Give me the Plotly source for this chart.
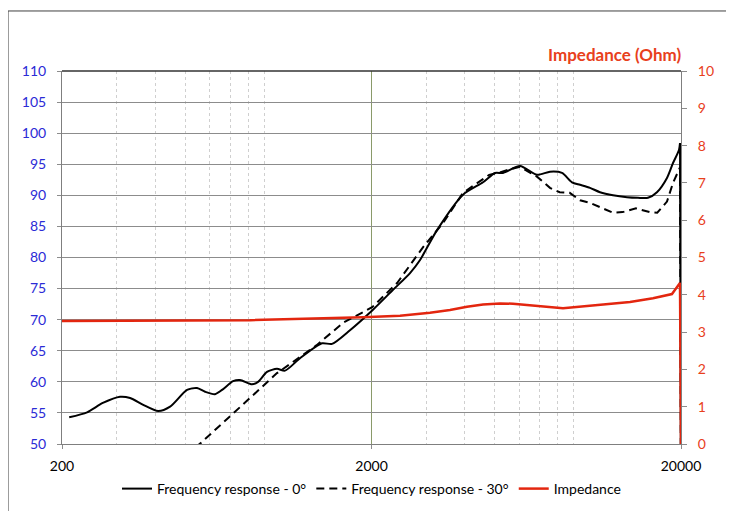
import plotly.graph_objects as go

# ---- Data ----
freq_0 = [211, 241, 271, 308, 332, 366, 409, 447, 507, 546, 580, 624, 658, 714, 752, 822, 860,
          919, 990, 1051, 1175, 1384, 1491, 1704, 2022, 2347, 2664, 2870, 3256, 3951, 4585,
          5013, 5320, 6037, 6850, 7546, 8253, 8889, 9436, 10166, 10948, 12062, 13385, 14520,
          15643, 16724, 18019, 18846, 19703, 19852, 20000]
spl_0 = [54.3, 55.1, 56.6, 57.6, 57.4, 56.3, 55.3, 56.0, 58.7, 59.0, 58.4, 58.0, 58.7, 60.1, 60.3,
         59.6, 60.0, 61.6, 62.1, 61.8, 63.8, 66.2, 66.1, 68.3, 71.6, 74.8, 77.5, 79.6, 84.4, 90.1,
         92.1, 93.6, 93.6, 94.7, 93.3, 93.8, 93.6, 92.1, 91.7, 91.2, 90.5, 90.0, 89.7, 89.6,
         89.6, 90.5, 92.8, 95.2, 97.3, 98.4, 40.0]

freq_30 = [500, 560, 810, 990, 1175, 1330, 1620, 2010, 2420, 2940, 3400, 3951, 4800, 5130,
           5520, 6037, 6850, 7546, 8110, 8740, 9436, 10166, 10948, 12062, 12950, 14310, 15830,
           16760, 18019, 18846, 19852, 20000]
spl_30 = [48.1, 50.1, 57.4, 61.4, 64.0, 65.9, 69.5, 72.0, 75.9, 81.7, 85.5, 90.4, 93.3, 93.6,
          94.1, 94.6, 93.0, 91.2, 90.5, 90.4, 89.2, 88.8, 88.1, 87.2, 87.3, 87.9, 87.3,
          87.2, 89.0, 92.0, 94.5, 40.0]

freq_imp = [200, 500, 810, 1877, 2473, 3090, 3586, 4070, 4585, 5203, 5729, 8314, 10708, 13685,
            16240, 18700, 19852, 20000]
impedance = [3.30, 3.31, 3.32, 3.40, 3.44, 3.52, 3.59, 3.68, 3.74, 3.77, 3.76, 3.64, 3.73, 3.81,
             3.91, 4.02, 4.32, 0.0]

x_ticks = [200, 2000, 20000]
x_minor = [300, 400, 500, 600, 700, 800, 900, 3000, 4000, 5000, 6000, 7000, 8000, 9000]

FONT = "Lato, 'Open Sans', sans-serif"
BLUE = "#2b2bd6"
RED = "#e8401c"

fig = go.Figure()
# 0° response: smooth body, then the final vertical drop at 20 kHz
fig.add_trace(go.Scatter(x=freq_0[:-1], y=spl_0[:-1], mode="lines", name="Frequency response - 0°",
                         line=dict(color="black", width=2, shape="spline", smoothing=0.7),
                         yaxis="y", legendgroup="r0"))
fig.add_trace(go.Scatter(x=freq_0[-2:], y=spl_0[-2:], mode="lines", showlegend=False,
                         line=dict(color="black", width=2), yaxis="y", legendgroup="r0",
                         hoverinfo="skip"))
fig.add_trace(go.Scatter(x=freq_30, y=spl_30, mode="lines", name="Frequency response - 30°",
                         line=dict(color="black", width=2, dash="8px,5px"), yaxis="y"))
fig.add_trace(go.Scatter(x=freq_imp, y=impedance, mode="lines", name="Impedance",
                         line=dict(color="#e3260f", width=2.5), yaxis="y2"))

# page body has an 8px margin; plot area spans x 62..681, y 71..444 on screen
fig.update_layout(
    width=726, height=503,
    margin=dict(l=54, r=53, t=63, b=67, autoexpand=False),
    paper_bgcolor="white", plot_bgcolor="white",
    font=dict(family=FONT, size=14, color="black"),
    showlegend=True,
    legend=dict(orientation="h", x=0.5, xanchor="center", xref="paper",
                y=1 - (489 - 8) / 503, yanchor="middle", yref="container",
                font=dict(size=14, family=FONT), itemwidth=30, traceorder="normal"),
    xaxis=dict(type="log", range=[2.30103, 4.30103], tickvals=x_ticks,
               ticktext=[str(v) for v in x_ticks],
               showgrid=True, gridcolor="#8a9a6a", gridwidth=1,
               minor=dict(tickvals=x_minor, showgrid=True, gridcolor="#cfcfcf",
                          griddash="dot", gridwidth=1, ticks=""),
               ticks="outside", ticklen=4, tickcolor="#8c8c8c", ticklabelstandoff=5,
               showline=True, linecolor="#7f7f7f", linewidth=1, mirror=False,
               tickfont=dict(size=14, color="black"), zeroline=False),
    yaxis=dict(range=[50, 110], dtick=5, showgrid=True, gridcolor="#8c8c8c", gridwidth=1,
               ticks="outside", ticklen=4, tickcolor="#8c8c8c", ticklabelstandoff=8,
               showline=True, linecolor="#7f7f7f", linewidth=1,
               tickfont=dict(size=14, color=BLUE), zeroline=False),
    yaxis2=dict(range=[0, 10], dtick=1, overlaying="y", side="right", showgrid=False,
                ticks="outside", ticklen=5, tickcolor="#8c8c8c", ticklabelstandoff=8,
                showline=True, linecolor="#7f7f7f", linewidth=1,
                tickfont=dict(size=14, color=RED), zeroline=False),
)

# top border line of the plot area (darker)
fig.add_shape(type="line", xref="paper", yref="paper", x0=0, x1=1, y0=1, y1=1,
              line=dict(color="#333333", width=1.5))
# outer chart frame
fig.add_shape(type="rect", xref="paper", yref="paper", x0=-0.0872, x1=1.3, y0=-0.4, y1=1.1609,
              line=dict(color="#404040", width=1), layer="below")

fig.add_annotation(text="<b>Impedance (Ohm)</b>", xref="paper", yref="paper",
                   x=(683 - 62) / 619, y=(444 - 55) / 373, xanchor="right", yanchor="middle",
                   showarrow=False, font=dict(size=17, color=RED, family=FONT))

fig.write_html("out.html")
